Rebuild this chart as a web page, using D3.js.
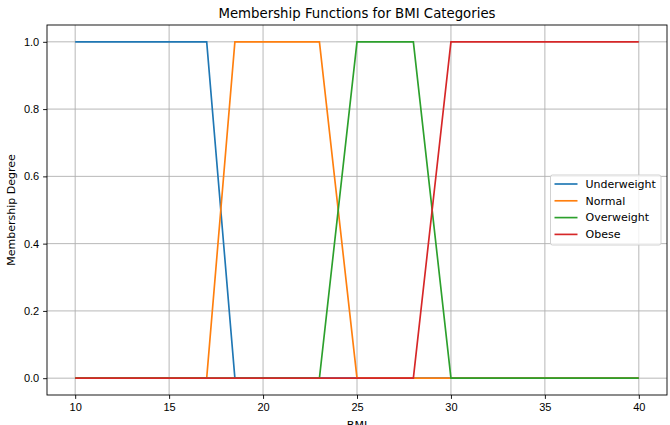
<!DOCTYPE html>
<html>
<head>
<meta charset="utf-8">
<script src="https://cdn.jsdelivr.net/npm/d3@7"></script>
<style>
  body { margin: 0; background: #fff; overflow: hidden; }
  svg { display: block; font-family: "DejaVu Sans", sans-serif; }
  .grid line { stroke: #b0b0b0; stroke-width: 0.9; }
  .axis text { font-size: 11px; fill: #000; }
</style>
</head>
<body>
<svg id="chart"></svg>
<script>
// BMI breakpoints and membership values
const categories = ["Underweight", "Normal", "Overweight", "Obese"];
const underweightX = [10, 17, 18.5, 40];
const underweightY = [1, 1, 0, 0];
const normalX = [10, 17, 18.5, 23, 25, 40];
const normalY = [0, 0, 1, 1, 0, 0];
const overweightX = [10, 23, 25, 28, 30, 40];
const overweightY = [0, 0, 1, 1, 0, 0];
const obeseX = [10, 28, 30, 40];
const obeseY = [0, 0, 1, 1];
const xTicks = [10, 15, 20, 25, 30, 35, 40];
const yTicks = [0, 0.2, 0.4, 0.6, 0.8, 1.0];
const colors = ["#1f77b4", "#ff7f0e", "#2ca02c", "#d62728"];

const series = [
  [underweightX, underweightY],
  [normalX, normalY],
  [overweightX, overweightY],
  [obeseX, obeseY],
].map(([xs, ys], i) => ({
  name: categories[i],
  points: xs.map((x, j) => ({ x, y: ys[j] })),
}));

const width = 670;
const height = 425;
const margin = { top: 25, right: 3, bottom: 30, left: 47 };
const innerWidth = width - margin.left - margin.right;
const innerHeight = height - margin.top - margin.bottom;

const svg = d3.select("#chart").attr("width", width).attr("height", height);
const g = svg.append("g").attr("transform", `translate(${margin.left},${margin.top})`);

// Scales (matplotlib style 5% margins)
const xScale = d3.scaleLinear().domain([8.5, 41.5]).range([0, innerWidth]);
const yScale = d3.scaleLinear().domain([-0.05, 1.05]).range([innerHeight, 0]);

// Grid
g.append("g").attr("class", "grid")
  .selectAll("line").data(xTicks).join("line")
  .attr("x1", (d) => xScale(d)).attr("x2", (d) => xScale(d))
  .attr("y1", 0).attr("y2", innerHeight);
g.append("g").attr("class", "grid")
  .selectAll("line").data(yTicks).join("line")
  .attr("y1", (d) => yScale(d)).attr("y2", (d) => yScale(d))
  .attr("x1", 0).attr("x2", innerWidth);

// Lines
const line = d3.line().x((d) => xScale(d.x)).y((d) => yScale(d.y));
g.selectAll(".series").data(series).join("path")
  .attr("class", "series")
  .attr("d", (d) => line(d.points))
  .attr("fill", "none")
  .attr("stroke", (d, i) => colors[i])
  .attr("stroke-width", 1.67);

// Axes
const xAxis = d3.axisBottom(xScale).tickValues(xTicks).tickSize(3.9).tickPadding(3.9).tickFormat(d3.format("d"));
const yAxis = d3.axisLeft(yScale).tickValues(yTicks).tickSize(3.9).tickPadding(3.9).tickFormat(d3.format(".1f"));
const gx = g.append("g").attr("class", "axis").attr("transform", `translate(0,${innerHeight})`).call(xAxis);
const gy = g.append("g").attr("class", "axis").call(yAxis);
gx.select(".domain").remove();
gy.select(".domain").remove();
g.selectAll(".axis .tick line").attr("stroke", "#000").attr("stroke-width", 0.9);

// Spines
g.append("rect")
  .attr("width", innerWidth).attr("height", innerHeight)
  .attr("fill", "none").attr("stroke", "#000").attr("stroke-width", 0.9);

// Title and labels
svg.append("text")
  .attr("x", margin.left + innerWidth / 2).attr("y", 18)
  .attr("text-anchor", "middle").attr("font-size", 13.3)
  .text("Membership Functions for BMI Categories");
svg.append("text")
  .attr("x", margin.left + innerWidth / 2).attr("y", 429)
  .attr("text-anchor", "middle").attr("font-size", 11)
  .text("BMI");
svg.append("text")
  .attr("transform", `translate(15,${margin.top + innerHeight / 2}) rotate(-90)`)
  .attr("text-anchor", "middle").attr("font-size", 11)
  .text("Membership Degree");

// Legend
const legend = svg.append("g").attr("transform", "translate(550.5,175)");
legend.append("rect")
  .attr("width", 110.5).attr("height", 70).attr("rx", 2)
  .attr("fill", "#fff").attr("fill-opacity", 0.8)
  .attr("stroke", "#cccccc").attr("stroke-width", 0.9);
const items = legend.selectAll(".item").data(series).join("g")
  .attr("class", "item")
  .attr("transform", (d, i) => `translate(0,${9 + i * 16.8})`);
items.append("line")
  .attr("x1", 4).attr("x2", 27)
  .attr("stroke", (d, i) => colors[i]).attr("stroke-width", 1.67);
items.append("text")
  .attr("x", 35).attr("dy", "0.35em").attr("font-size", 11)
  .text((d) => d.name);
</script>
</body>
</html>
